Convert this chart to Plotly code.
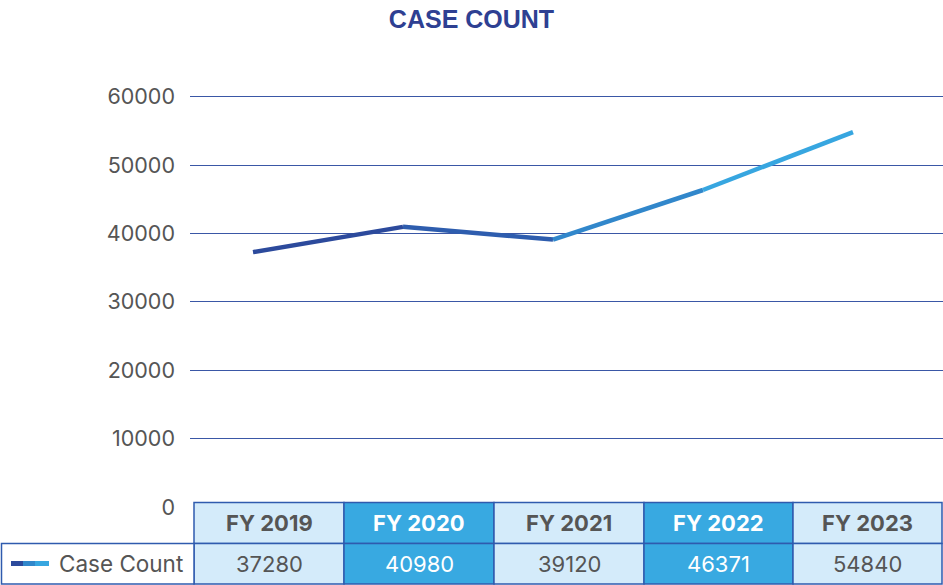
import plotly.graph_objects as go

categories = ["FY 2019", "FY 2020", "FY 2021", "FY 2022", "FY 2023"]
case_count = [37280, 40980, 39120, 46371, 54840]
y_ticks = [0, 10000, 20000, 30000, 40000, 50000, 60000]
series_name = "Case Count"

W, H = 943, 585
Y_TOP = 61000
scale = (507 - 97) / 60000.0
ML, MR, MB = 190, 0, 78
MT = 507 - Y_TOP * scale
PW, PH = W - ML - MR, H - MT - MB

def px(x):
    return (x - ML) / PW

def py(y):
    return (H - MB - y) / PH

seg_colors = ["#2C4A9C", "#2E5DAE", "#3187CB", "#37A6E0"]

fig = go.Figure()
xs = list(range(len(categories)))
for i in range(len(categories) - 1):
    fig.add_trace(go.Scatter(
        x=[xs[i], xs[i + 1]], y=[case_count[i], case_count[i + 1]],
        mode="lines", line=dict(color=seg_colors[i], width=4.5),
        showlegend=False, hoverinfo="skip"))

font_main = "Inter, Roboto, Arial, sans-serif"

shapes = []
annotations = []

# table
col_edges = [194, 344, 494, 644, 793, 942]
row_top, row_mid, row_bot = 502.5, 543.5, 584
light, dark = "#D4EBFA", "#38A9E1"
border = "#2F5BAE"
for i, cat in enumerate(categories):
    fill = light if i % 2 == 0 else dark
    tcol = "#555555" if i % 2 == 0 else "#FFFFFF"
    x0, x1 = col_edges[i], col_edges[i + 1]
    for (y0, y1) in [(row_top, row_mid), (row_mid, row_bot)]:
        shapes.append(dict(type="rect", xref="paper", yref="paper",
                           x0=px(x0), x1=px(x1), y0=py(y1), y1=py(y0),
                           fillcolor=fill, line=dict(color=border, width=1.5)))
    annotations.append(dict(xref="paper", yref="paper", x=px((x0 + x1) / 2), y=py((row_top + row_mid) / 2),
                            text="<b>%s</b>" % cat, showarrow=False,
                            font=dict(family=font_main, size=22, color=tcol),
                            xanchor="center", yanchor="middle"))
    annotations.append(dict(xref="paper", yref="paper", x=px((x0 + x1) / 2), y=py((row_mid + row_bot) / 2),
                            text="%d" % case_count[i], showarrow=False,
                            font=dict(family=font_main, size=22, color=tcol),
                            xanchor="center", yanchor="middle"))

# legend cell
shapes.append(dict(type="rect", xref="paper", yref="paper",
                   x0=px(1.5), x1=px(194), y0=py(row_bot), y1=py(row_mid),
                   fillcolor="#FFFFFF", line=dict(color=border, width=1.5)))
leg_y = py(563.5)
lx = [11, 23, 35, 49]
for j in range(3):
    shapes.append(dict(type="line", xref="paper", yref="paper",
                       x0=px(lx[j]), x1=px(lx[j + 1]), y0=leg_y, y1=leg_y,
                       line=dict(color=seg_colors[j + 1 if j > 0 else 0], width=5)))
annotations.append(dict(xref="paper", yref="paper", x=px(57), y=leg_y,
                        text=series_name, showarrow=False,
                        font=dict(family=font_main, size=22.5, color="#555555"),
                        xanchor="left", yanchor="middle"))

fig.update_layout(
    width=W, height=H,
    margin=dict(l=ML, r=MR, t=MT, b=MB),
    paper_bgcolor="white", plot_bgcolor="white",
    title=dict(text="<b>CASE COUNT</b>", x=0.5, xanchor="center", y=1 - 19 / H, yanchor="middle",
               font=dict(family="Liberation Sans, Arial, sans-serif", size=25, color="#2E4092")),
    xaxis=dict(type="linear", range=[-0.42, 4.6], showgrid=False, zeroline=False,
               showticklabels=False, showline=False, ticks=""),
    yaxis=dict(range=[0, Y_TOP], tickvals=y_ticks, ticktext=[str(v) for v in y_ticks],
               showgrid=True, gridcolor="#3A57A6",
               gridwidth=1, zeroline=False, showline=False, ticks="",
               tickfont=dict(family=font_main, size=21.5, color="#555555"),
               ticklabelstandoff=14),
    shapes=shapes, annotations=annotations, showlegend=False,
)

fig.write_html("out.html", config={"displayModeBar": False},
               post_script="document.body.style.margin='0';")
